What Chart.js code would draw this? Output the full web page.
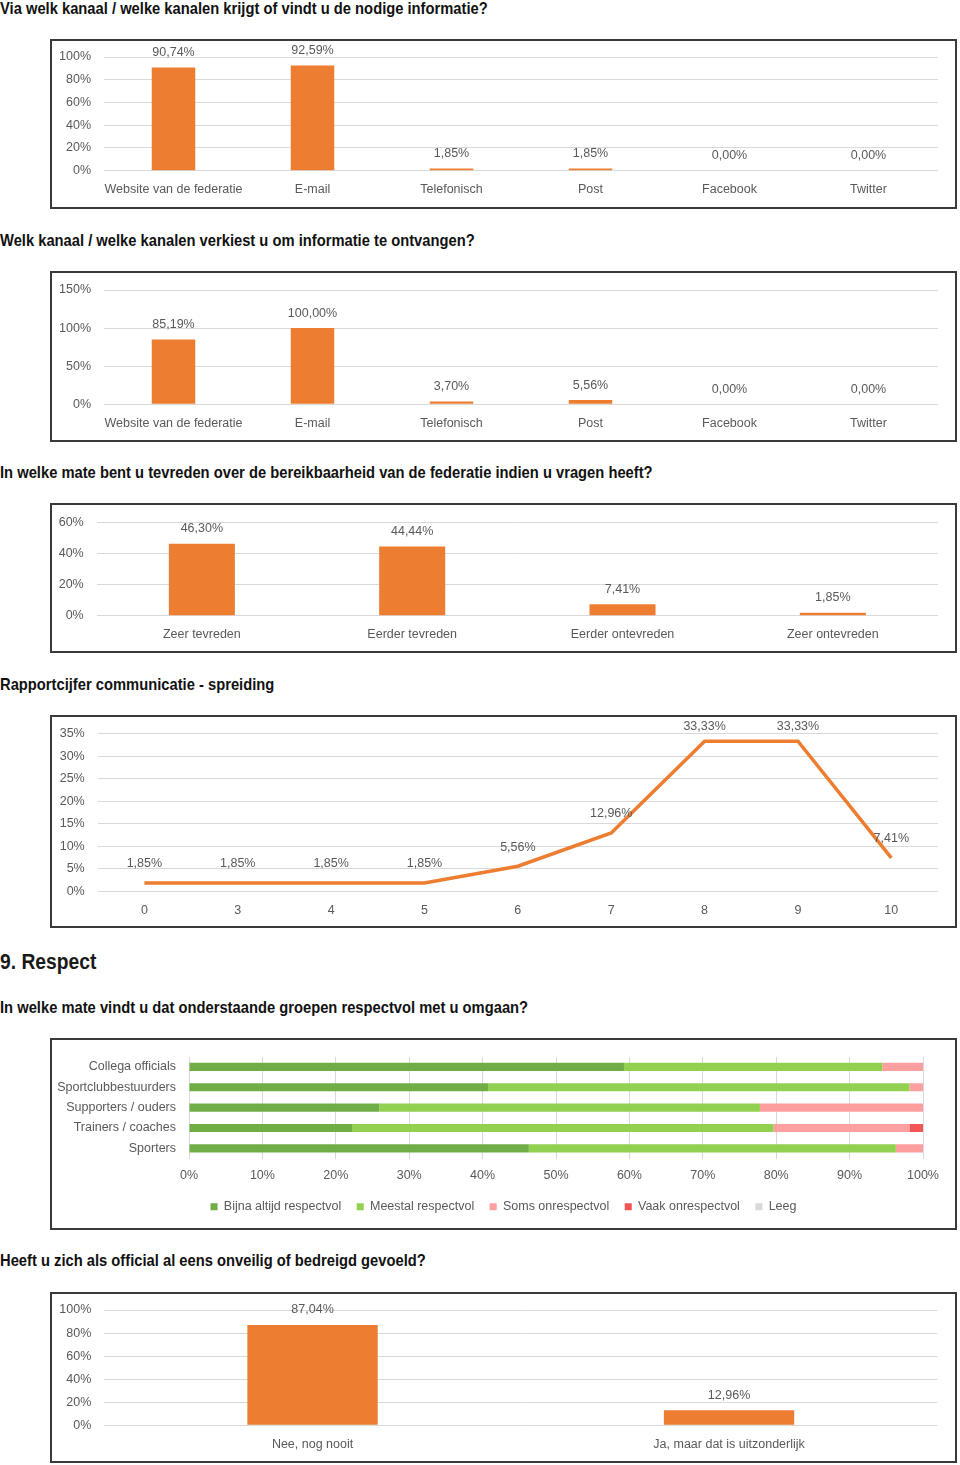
<!DOCTYPE html>
<html lang="nl">
<head>
<meta charset="UTF-8">
<title>Enquête officials</title>
<script src="https://cdn.jsdelivr.net/npm/chart.js@4.4.1/dist/chart.umd.min.js"></script>
<style>
  body { margin: 0; background: #fff; width: 960px; height: 1465px; position: relative; overflow: hidden;
         font-family: "Liberation Sans", Arial, sans-serif; }
  .q { position: absolute; left: 0; margin: 0; font-size: 16.5px; line-height: 20px; font-weight: bold; color: #111;
       white-space: nowrap; transform: scaleX(0.893); transform-origin: 0 0; }
  .h2 { position: absolute; left: 0; margin: 0; font-size: 22px; line-height: 26px; font-weight: bold; color: #1a1a1a;
        white-space: nowrap; transform: scaleX(0.875); transform-origin: 0 0; }
  .box { position: absolute; left: 50px; width: 907px; border: 2px solid #3a3a3a; box-sizing: border-box; }
  .box canvas { position: absolute; left: 0; top: 0; }
</style>
</head>
<body>

<p class="q" style="top:-2px">Via welk kanaal / welke kanalen krijgt of vindt u de nodige informatie?</p>
<div class="box" style="top:39px;height:170px"><canvas id="c1" width="903" height="166"></canvas></div>

<p class="q" style="top:230px">Welk kanaal / welke kanalen verkiest u om informatie te ontvangen?</p>
<div class="box" style="top:271px;height:171px"><canvas id="c2" width="903" height="167"></canvas></div>

<p class="q" style="top:462px">In welke mate bent u tevreden over de bereikbaarheid van de federatie indien u vragen heeft?</p>
<div class="box" style="top:503px;height:150px"><canvas id="c3" width="903" height="146"></canvas></div>

<p class="q" style="top:674px">Rapportcijfer communicatie - spreiding</p>
<div class="box" style="top:715px;height:213px"><canvas id="c4" width="903" height="209"></canvas></div>

<p class="h2" style="top:949px">9. Respect</p>
<p class="q" style="top:997px">In welke mate vindt u dat onderstaande groepen respectvol met u omgaan?</p>
<div class="box" style="top:1038px;height:192px"><canvas id="c5" width="903" height="188"></canvas></div>

<p class="q" style="top:1250px">Heeft u zich als official al eens onveilig of bedreigd gevoeld?</p>
<div class="box" style="top:1292px;height:171px"><canvas id="c6" width="903" height="167"></canvas></div>

<script>
// --- data ---
const kanalen = ['Website van de federatie', 'E-mail', 'Telefonisch', 'Post', 'Facebook', 'Twitter'];
const krijgtInfo = [90.74, 92.59, 1.85, 1.85, 0.00, 0.00];
const verkiestInfo = [85.19, 100.00, 3.70, 5.56, 0.00, 0.00];

const tevredenLabels = ['Zeer tevreden', 'Eerder tevreden', 'Eerder ontevreden', 'Zeer ontevreden'];
const tevredenValues = [46.30, 44.44, 7.41, 1.85];

const cijfers = ['0', '3', '4', '5', '6', '7', '8', '9', '10'];
const cijferSpreiding = [1.85, 1.85, 1.85, 1.85, 5.56, 12.96, 33.33, 33.33, 7.41];

const groepen = ['Collega officials', 'Sportclubbestuurders', 'Supporters / ouders', 'Trainers / coaches', 'Sporters'];
const bijnaAltijd = [59.26, 40.74, 25.93, 22.22, 46.30];
const meestal = [35.19, 57.41, 51.85, 57.41, 50.00];
const somsOnresp = [5.56, 1.85, 22.22, 18.52, 3.70];
const vaakOnresp = [0, 0, 0, 1.85, 0];
const leeg = [0, 0, 0, 0, 0];

const onveiligLabels = ['Nee, nog nooit', 'Ja, maar dat is uitzonderlijk'];
const onveiligValues = [87.04, 12.96];

// --- stijl ---
const FONT = '"Liberation Sans", Arial, sans-serif';
const FSIZE = 12.5;
const ORANGE = '#ED7D31';
const GREY = '#595959';
const GRID = '#d9d9d9';

Chart.defaults.font.family = FONT;
Chart.defaults.font.size = FSIZE;
Chart.defaults.color = GREY;

function pct(v) {
    return v.toFixed(2).replace('.', ',') + '%';
}

// waarde boven elke staaf / punt (nooit hoger dan minY)
const valueLabels = {
    id: 'valueLabels',
    afterDatasetsDraw(chart, args, opts) {
        const ctx = chart.ctx;
        const meta = chart.getDatasetMeta(0);
        ctx.save();
        ctx.font = FSIZE + 'px ' + FONT;
        ctx.fillStyle = GREY;
        ctx.textAlign = 'center';
        ctx.textBaseline = 'middle';
        meta.data.forEach(function (el, i) {
            const y = Math.max(el.y - opts.offset, opts.minY || 0);
            ctx.fillText(pct(chart.data.datasets[0].data[i]), el.x, y);
        });
        ctx.restore();
    }
};

function yAxis(max, step, width) {
    return {
        min: 0, max: max,
        ticks: { stepSize: step, padding: 13, callback: v => v + '%' },
        grid: { color: GRID, drawTicks: false },
        border: { display: false },
        afterFit: s => { s.width = width; s.paddingTop = 0; s.paddingBottom = 0; }
    };
}

function xCat(height) {
    return {
        grid: { display: false, drawTicks: false },
        border: { display: false },
        ticks: { padding: 11.5, maxRotation: 0, autoSkip: false },
        afterFit: s => { s.height = height; }
    };
}

function barChart(id, labels, values, o) {
    return new Chart(document.getElementById(id), {
        type: 'bar',
        data: {
            labels: labels,
            datasets: [{ data: values, backgroundColor: ORANGE, barPercentage: o.bar, categoryPercentage: 1 }]
        },
        options: {
            responsive: false,
            animation: false,
            layout: { padding: { top: o.top, right: o.right, left: 0, bottom: 0 } },
            plugins: { legend: { display: false }, tooltip: { enabled: false }, valueLabels: { offset: 15 } },
            scales: { x: xCat(o.xh), y: yAxis(o.max, o.step, o.left) }
        },
        plugins: [valueLabels]
    });
}

barChart('c1', kanalen, krijgtInfo, { max: 100, step: 20, left: 52, right: 17, top: 16, xh: 36.3, bar: 0.313 });
barChart('c2', kanalen, verkiestInfo, { max: 150, step: 50, left: 52, right: 17, top: 17, xh: 35.7, bar: 0.313 });
barChart('c3', tevredenLabels, tevredenValues, { max: 60, step: 20, left: 44.7, right: 17, top: 17.3, xh: 35.3, bar: 0.314 });
barChart('c6', onveiligLabels, onveiligValues, { max: 100, step: 20, left: 52.3, right: 17.7, top: 16, xh: 35.7, bar: 0.313 });

// lijngrafiek rapportcijfer
new Chart(document.getElementById('c4'), {
    type: 'line',
    data: {
        labels: cijfers,
        datasets: [{ data: cijferSpreiding, borderColor: ORANGE, borderWidth: 3.5, pointRadius: 0, tension: 0, fill: false }]
    },
    options: {
        responsive: false,
        animation: false,
        layout: { padding: { top: 16.7, right: 17, left: 0, bottom: 0 } },
        plugins: { legend: { display: false }, tooltip: { enabled: false }, valueLabels: { offset: 19, minY: 10 } },
        scales: {
            x: Object.assign(xCat(34.7), { offset: true }),
            y: yAxis(35, 5, 45.7)
        }
    },
    plugins: [valueLabels]
});

// gestapelde horizontale staven respect
const respectSets = [
    { label: 'Bijna altijd respectvol', data: bijnaAltijd, backgroundColor: '#70AD47' },
    { label: 'Meestal respectvol', data: meestal, backgroundColor: '#92D050' },
    { label: 'Soms onrespectvol', data: somsOnresp, backgroundColor: '#FF9F9F' },
    { label: 'Vaak onrespectvol', data: vaakOnresp, backgroundColor: '#F25454' },
    { label: 'Leeg', data: leeg, backgroundColor: '#D9D9D9' }
];
respectSets.forEach(d => { d.barPercentage = 0.4; d.categoryPercentage = 1; });

new Chart(document.getElementById('c5'), {
    type: 'bar',
    data: { labels: groepen, datasets: respectSets },
    options: {
        indexAxis: 'y',
        responsive: false,
        animation: false,
        layout: { padding: { top: 16.7, right: 0, left: 0, bottom: 5 } },
        plugins: {
            tooltip: { enabled: false },
            legend: {
                position: 'bottom',
                labels: { boxWidth: 7, boxHeight: 7, padding: 15.5, color: GREY, font: { size: FSIZE } }
            }
        },
        scales: {
            x: {
                stacked: true, min: 0, max: 100,
                ticks: { stepSize: 10, padding: 10, maxRotation: 0, callback: v => v + '%' },
                grid: { color: GRID, drawTicks: false },
                border: { display: false },
                // rechts ruimte laten zonder de legende te verschuiven
                afterFit: s => { s.height = 26.5; s.paddingRight = 32; }
            },
            y: {
                stacked: true,
                grid: { display: false, drawTicks: false },
                border: { display: false },
                ticks: { padding: 13, autoSkip: false },
                afterFit: s => { s.width = 137; s.paddingTop = 0; s.paddingBottom = 0; }
            }
        }
    }
});
</script>
</body>
</html>
